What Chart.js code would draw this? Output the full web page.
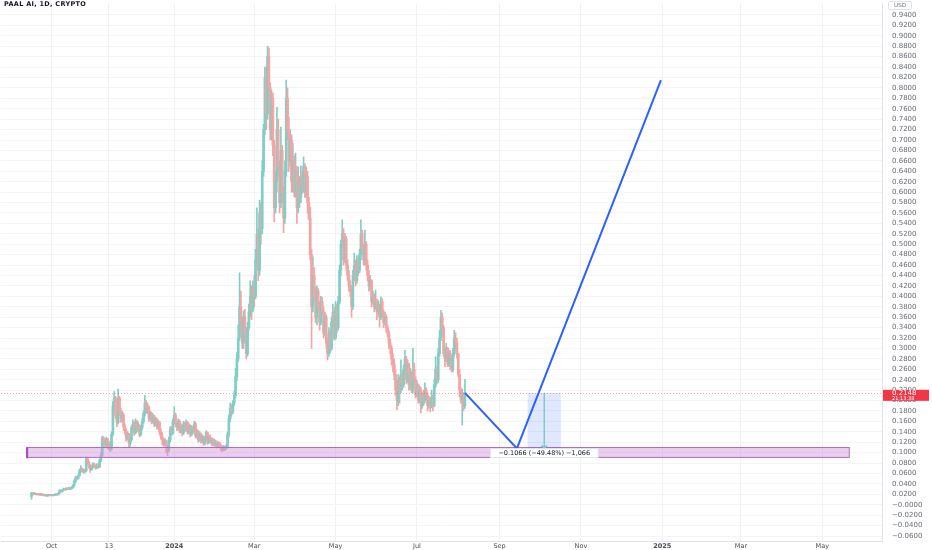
<!DOCTYPE html>
<html>
<head>
<meta charset="utf-8">
<script src="https://cdn.jsdelivr.net/npm/chart.js@4.4.1/dist/chart.umd.min.js"></script>
<style>
  html, body { margin: 0; padding: 0; background: #fff; }
  #wrap { position: relative; width: 932px; height: 550px; }
  #title { position: absolute; left: 4px; top: 0px; font: bold 6.5px "DejaVu Sans", sans-serif; color: #131722; letter-spacing: 0.3px; }
  #usd { position: absolute; left: 888px; top: 1px; width: 22px; height: 7px; border: 1px solid #e0e3eb; border-radius: 2px;
         font: 5.5px "DejaVu Sans", sans-serif; color: #6a6d78; text-align: center; line-height: 7px; }
</style>
</head>
<body>
<div id="wrap">
  <canvas id="chart" width="932" height="550"></canvas>
  <div id="title">PAAL AI, 1D, CRYPTO</div>
  <div id="usd">USD</div>
</div>
<script>
// Daily candles, first one on 2023-09-16
const startDate = '2023-09-16';
const firstOpen = 0.016;
const closes = [
  .022,.021,.022,.020,.021,.020,.019,.020,.019,.018,.019,.017,.018,.019,.018,
  .019,.018,.019,.020,.019,.022,.027,.025,.028,.030,.029,.031,.030,.032,.031,
  .033,.036,.045,.052,.050,.056,.065,.070,.066,.063,.065,
  .088,.082,.075,.068,.072,.078,.074,.071,.076,.073,.085,.095,
  .128,.122,.115,.126,.112,.118,.108,.135,
  .190,.205,.170,.158,.205,.178,.165,.172,.150,
  .142,.128,.135,.118,.125,.148,.155,.138,.160,.145,.152,.135,.148,.160,.175,
  .195,.182,.188,.165,.175,.160,.170,.155,.165,.150,.158,
  .140,.132,.125,.118,.122,.112,.105,
  .125,.145,.138,.160,.172,.155,
  .148,.160,.142,.150,.138,.155,.145,.158,.140,.152,.135,.148,.142,
  .155,.132,.140,.125,.135,.122,.130,.118,.128,.138,.120,.130,.125,
  .118,.124,.115,.120,.112,.118,.114,.108,.106,.110,.108,.112,
  .135,.165,.185,.178,.195,.210,.245,.280,.320,.380,.350,
  .310,.360,.330,.290,.340,.370,.400,.375,.420,
  .400,.470,.520,.450,.560,.530,.640,.720,.820,.750,.860,.800,.720,.780,.690,
  .570,.620,.720,.650,.580,.680,.600,.550,.640,.780,.720,.660,.700,.620,.660,.600,.640,.570,.620,.590,.630,.610,.650,.600,.630,.580,.550,
  .480,.380,.440,.400,.360,.410,.380,.350,.390,.370,.330,.360,.310,.290,.330,.300,.350,.370,.320,.380,.340,.390,
  .450,.500,.520,.470,.510,.460,.440,.420,.410,.380,.440,.460,.430,.470,.450,.480,.520,.490,.470,
  .500,.460,.440,.420,.430,.390,.400,.380,.390,.370,.380,.360,.390,.370,.350,.360,.340,.330,.310,.300,.280,.270,.250,.220,.200,.240,.220,.250,
  .230,.260,.280,.240,.270,.230,.250,.220,.260,.240,.210,.230,.200,.220,.190,.210,.200,.220,.210,.190,.200,.190,.205,.190,.230,.260,.240,
  .290,.320,.360,.340,.290,.280,.300,.270,.290,.280,.260,.290,.320,.310,.290,.250,.220,.200,.210,.190,.2148
];
const highs = [
  .024,.023,.023,.023,.022,.022,.021,.021,.021,.020,.020,.020,.019,.020,.020,
  .020,.020,.020,.021,.021,.023,.029,.028,.029,.032,.031,.033,.032,.034,.033,
  .035,.038,.048,.055,.054,.058,.068,.075,.071,.068,.068,
  .092,.090,.084,.077,.075,.081,.080,.076,.079,.078,.088,.100,
  .132,.131,.125,.130,.128,.122,.120,.140,
  .198,.217,.208,.175,.222,.208,.185,.180,.176,
  .155,.146,.140,.137,.130,.152,.163,.158,.165,.162,.158,.154,.152,.166,.180,
  .210,.200,.195,.190,.180,.178,.175,.172,.168,.166,.162,
  .160,.145,.138,.128,.127,.124,.115,
  .130,.150,.150,.165,.188,.176,
  .158,.165,.163,.156,.153,.160,.158,.163,.160,.156,.154,.152,.150,
  .160,.158,.145,.143,.140,.138,.134,.132,.131,.142,.140,.133,.134,
  .128,.128,.126,.124,.122,.121,.120,.116,.112,.114,.113,.115,
  .140,.172,.195,.192,.200,.218,.262,.292,.345,.445,.410,
  .360,.372,.375,.340,.350,.385,.430,.420,.430,
  .440,.490,.570,.530,.585,.580,.660,.730,.840,.840,.880,.877,.810,.796,.790,
  .700,.640,.763,.740,.660,.725,.690,.610,.660,.815,.800,.744,.720,.710,.694,.670,.675,.650,.648,.630,.650,.640,.668,.655,.648,.640,.590,
  .571,.490,.476,.455,.418,.420,.415,.390,.400,.398,.380,.370,.365,.320,.340,.335,.360,.385,.372,.390,.385,.400,
  .460,.508,.547,.530,.520,.515,.470,.450,.430,.420,.450,.483,.470,.478,.475,.490,.547,.527,.500,
  .527,.505,.470,.450,.440,.432,.410,.405,.412,.395,.392,.385,.399,.395,.374,.370,.365,.345,.335,.318,.305,.290,.280,.259,.230,.250,.245,.278,
  .255,.268,.297,.285,.278,.272,.262,.255,.300,.272,.245,.238,.232,.228,.225,.215,.220,.234,.225,.215,.208,.205,.220,.210,.240,.284,.265,
  .300,.335,.373,.368,.345,.303,.310,.302,.297,.296,.285,.300,.335,.330,.320,.290,.260,.225,.222,.215,.240
];
const lows = [
  .010,.019,.020,.019,.019,.019,.018,.018,.018,.017,.017,.016,.016,.017,.017,
  .017,.017,.017,.018,.018,.019,.021,.024,.024,.027,.028,.028,.029,.029,.029,
  .030,.032,.035,.043,.047,.049,.055,.062,.063,.060,.061,
  .064,.078,.070,.062,.066,.070,.071,.068,.069,.070,.071,.082,
  .093,.112,.110,.112,.108,.106,.102,.105,
  .132,.180,.165,.150,.155,.172,.158,.160,.142,
  .135,.122,.124,.110,.112,.122,.144,.133,.136,.140,.141,.130,.132,.144,.156,
  .170,.176,.175,.160,.162,.155,.157,.150,.152,.145,.146,
  .135,.126,.115,.112,.114,.100,.094,
  .102,.120,.133,.135,.155,.150,
  .142,.145,.138,.138,.132,.135,.140,.142,.136,.137,.130,.132,.136,
  .138,.128,.128,.120,.122,.118,.119,.114,.115,.125,.116,.117,.120,
  .114,.114,.112,.112,.109,.110,.111,.104,.102,.104,.104,.106,
  .110,.130,.160,.170,.175,.190,.205,.238,.275,.315,.335,
  .300,.300,.320,.280,.285,.335,.360,.355,.370,
  .380,.395,.460,.430,.440,.500,.520,.630,.710,.720,.740,.780,.700,.700,.670,
  .543,.560,.600,.630,.560,.570,.580,.522,.540,.630,.700,.640,.650,.600,.600,.591,.590,.540,.560,.571,.580,.598,.600,.590,.590,.560,.547,
  .470,.300,.370,.390,.350,.345,.370,.335,.345,.360,.320,.325,.300,.278,.285,.292,.296,.340,.316,.318,.330,.335,
  .385,.440,.495,.460,.465,.450,.430,.410,.400,.360,.375,.430,.420,.425,.440,.445,.470,.480,.460,
  .460,.450,.430,.410,.412,.380,.385,.370,.375,.355,.365,.341,.355,.360,.340,.345,.330,.322,.300,.290,.268,.255,.240,.210,.182,.190,.195,.215,
  .220,.225,.250,.232,.235,.220,.222,.215,.215,.230,.205,.207,.195,.196,.176,.185,.190,.195,.200,.180,.185,.178,.186,.180,.188,.225,.232,
  .235,.285,.315,.325,.285,.265,.275,.265,.265,.259,.255,.255,.285,.295,.282,.245,.207,.195,.153,.180,.185
];
// crypto trades round the clock: each day opens where the last one closed
const opens = [firstOpen].concat(closes.slice(0, -1));

const xTickDates = ['2023-10-01', '2023-11-13', '2024-01-01', '2024-03-01', '2024-05-01', '2024-07-01',
                    '2024-09-01', '2024-11-01', '2025-01-01', '2025-03-01', '2025-05-01'];
const xTickLabels = ['Oct', '13', '2024', 'Mar', 'May', 'Jul', 'Sep', 'Nov', '2025', 'Mar', 'May'];
const yTickFirst = -0.06, yTickLast = 0.94, yTickStep = 0.02;

const lastPrice = 0.2148;
const lastCountdown = '21:13:38';
// drawings on the chart
const zoneDates = ['2023-09-12', '2025-05-21'];
const zonePrices = [0.091, 0.110];
const pathDates = ['2024-08-06', '2024-09-14', '2024-12-31'];
const pathPrices = [0.2148, 0.1082, 0.815];
const measureDates = ['2024-09-22', '2024-10-17'];
const measurePrices = [0.2148, 0.1082];
const measureText = '\u22120.1066 (\u221249.48%) \u22121,066';

const DAY = 864e5;
const dayOf = s => (Date.parse(s) - Date.parse('2023-10-01')) / DAY;
const x0 = dayOf(startDate);

// visible window: where day 0 and the 0.94 line sit, and the zoom of each axis
const view = { day0Px: 50.6, pxPerDay: 1.335, topTickPx: 15, pxPerUnit: 521 };

const UP = '#80cec5';
const DOWN = '#f5a3a3';
const isUp = i => closes[i] >= opens[i];

const wicks = closes.map((c, i) => ({ x: x0 + i, y: [lows[i], highs[i]] }));
const bodies = closes.map((c, i) => ({ x: x0 + i, y: [opens[i], c] }));
const path = pathDates.map((d, i) => ({ x: dayOf(d), y: pathPrices[i] }));

const FONT = '"DejaVu Sans", sans-serif';

const overlay = {
  id: 'overlay',
  afterDatasetDraw(chart, args) {
    if (args.index !== 1) return;
    const { ctx, scales: { x, y } } = chart;
    ctx.save();
    // support zone
    const zx1 = x.getPixelForValue(dayOf(zoneDates[0]));
    const zx2 = x.getPixelForValue(dayOf(zoneDates[1]));
    const zy1 = y.getPixelForValue(zonePrices[1]);
    const zy2 = y.getPixelForValue(zonePrices[0]);
    ctx.fillStyle = 'rgba(206,147,216,0.45)';
    ctx.fillRect(zx1, zy1, zx2 - zx1, zy2 - zy1);
    ctx.strokeStyle = '#ba68c8';
    ctx.lineWidth = 1;
    ctx.strokeRect(Math.round(zx1) + 0.5, Math.round(zy1) + 0.5, zx2 - zx1, zy2 - zy1);
    ctx.fillStyle = '#a64bbd';
    ctx.fillRect(zx1, zy1, 2, zy2 - zy1 + 1);
    // price range box
    const mx1 = x.getPixelForValue(dayOf(measureDates[0]));
    const mx2 = x.getPixelForValue(dayOf(measureDates[1]));
    const my1 = y.getPixelForValue(measurePrices[0]);
    const my2 = y.getPixelForValue(measurePrices[1]);
    ctx.fillStyle = 'rgba(41,98,255,0.15)';
    ctx.fillRect(mx1, my1, mx2 - mx1, my2 - my1);
    const mc = (mx1 + mx2) / 2;
    ctx.strokeStyle = '#80cbc4';
    ctx.lineWidth = 1.5;
    ctx.beginPath();
    ctx.moveTo(mc, my1);
    ctx.lineTo(mc, my2 - 0.5);
    ctx.moveTo(mc - 3, my2 - 3);
    ctx.lineTo(mc, my2 - 0.5);
    ctx.lineTo(mc + 3, my2 - 3);
    ctx.stroke();
    ctx.restore();
  },
  afterDatasetsDraw(chart) {
    const { ctx, chartArea, scales: { x, y } } = chart;
    ctx.save();
    // last price line
    const py = Math.round(y.getPixelForValue(lastPrice)) + 0.5;
    ctx.strokeStyle = 'rgba(242,54,69,0.45)';
    ctx.lineWidth = 1;
    ctx.setLineDash([1, 2]);
    ctx.beginPath();
    ctx.moveTo(chartArea.left, py);
    ctx.lineTo(chartArea.right, py);
    ctx.stroke();
    ctx.setLineDash([]);
    // range label
    const mx1 = x.getPixelForValue(dayOf(measureDates[0]));
    const mx2 = x.getPixelForValue(dayOf(measureDates[1]));
    const my2 = y.getPixelForValue(measurePrices[1]);
    const mc = (mx1 + mx2) / 2;
    ctx.font = '6.5px ' + FONT;
    const tw = ctx.measureText(measureText).width;
    const bw = tw + 16, bh = 9;
    ctx.fillStyle = '#ffffff';
    ctx.strokeStyle = '#e0e3eb';
    ctx.fillRect(mc - bw / 2, my2 + 0.5, bw, bh);
    ctx.strokeRect(Math.round(mc - bw / 2) + 0.5, Math.round(my2) + 0.5, bw, bh);
    ctx.fillStyle = '#131722';
    ctx.textAlign = 'center';
    ctx.textBaseline = 'middle';
    ctx.fillText(measureText, mc, my2 + 0.5 + bh / 2);
    ctx.restore();
  },
  afterDraw(chart) {
    const { ctx, scales: { y } } = chart;
    const py = y.getPixelForValue(lastPrice);
    ctx.save();
    ctx.fillStyle = '#f23645';
    ctx.fillRect(y.left + 1, py - 3, 46, 11);
    ctx.fillStyle = '#ffffff';
    ctx.textBaseline = 'middle';
    ctx.textAlign = 'left';
    ctx.font = '7px ' + FONT;
    ctx.fillText(lastPrice.toFixed(4), y.left + 10, py + 0.5);
    ctx.font = '5px ' + FONT;
    ctx.fillText(lastCountdown, y.left + 10, py + 5.5);
    ctx.restore();
  }
};

const chart = new Chart(document.getElementById('chart'), {
  type: 'bar',
  data: {
    datasets: [
      {
        label: 'wick',
        data: wicks,
        backgroundColor: ctx => isUp(ctx.dataIndex) ? UP : DOWN,
        barThickness: 1,
        grouped: false,
        order: 2
      },
      {
        label: 'body',
        data: bodies,
        backgroundColor: ctx => isUp(ctx.dataIndex) ? UP : DOWN,
        barThickness: 2,
        minBarLength: 1,
        grouped: false,
        order: 1
      },
      {
        type: 'line',
        label: 'path',
        data: path,
        borderColor: '#2962ff',
        borderWidth: 2,
        pointRadius: 0,
        order: 0
      }
    ]
  },
  options: {
    responsive: false,
    animation: false,
    layout: { padding: 0 },
    plugins: { legend: { display: false }, tooltip: { enabled: false } },
    scales: {
      x: {
        type: 'linear',
        offset: false,
        min: -37.9,
        max: 622.8,
        afterBuildTicks: s => { s.ticks = xTickDates.map(d => ({ value: dayOf(d) })); },
        afterFit: s => { s.height = 9; },
        ticks: {
          autoSkip: false,
          maxRotation: 0,
          padding: 1,
          color: '#4a4d57',
          font: c => ({ family: FONT, size: 6.5, weight: /^\d{4}$/.test(xTickLabels[c.index]) ? 'bold' : 'normal' }),
          callback: (v, i) => xTickLabels[i]
        },
        grid: { offset: false, color: '#f0f1f4', drawTicks: false },
        border: { display: true, color: '#e0e3eb' }
      },
      y: {
        position: 'right',
        min: -0.0696,
        max: 0.9688,
        afterBuildTicks: s => {
          const t = [];
          for (let v = yTickFirst; v <= yTickLast + 1e-9; v += yTickStep) t.push({ value: +v.toFixed(2) });
          s.ticks = t;
        },
        afterFit: s => { s.width = 50; },
        ticks: {
          autoSkip: false,
          padding: 0,
          color: '#6a6d78',
          font: { family: FONT, size: 7, lineHeight: 1 },
          callback: v => (v <= 0 ? '\u2212' : '') + Math.abs(v).toFixed(4)
        },
        grid: { color: '#f3f4f6', drawTicks: true, tickLength: 10, tickColor: 'rgba(0,0,0,0)' },
        border: { display: true, color: '#e0e3eb' }
      }
    }
  },
  plugins: [overlay]
});

// pin the value window to the plot area the layout gave
const area = chart.chartArea;
const xs = chart.options.scales.x, ys = chart.options.scales.y;
xs.min = (area.left - view.day0Px) / view.pxPerDay;
xs.max = (area.right - view.day0Px) / view.pxPerDay;
ys.max = yTickLast - (area.top - view.topTickPx) / view.pxPerUnit;
ys.min = yTickLast - (area.bottom - view.topTickPx) / view.pxPerUnit;
chart.update();
</script>
</body>
</html>
